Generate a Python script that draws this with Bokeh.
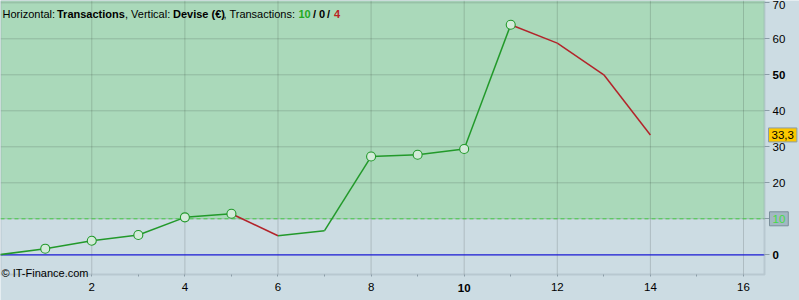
from bokeh.plotting import figure
from bokeh.models import Range1d, FixedTicker, BoxAnnotation, Label, LinearAxis, ColumnDataSource
from bokeh.embed import file_html
from bokeh.resources import INLINE

# ---- data ----
trades = list(range(0, 15))
equity = [0, 1.7, 3.9, 5.5, 10.4, 11.4, 5.3, 6.7, 27.3, 27.8, 29.4, 63.9, 58.8, 50.0, 33.3]
x_ticks = [2, 4, 6, 8, 10, 12, 14, 16]
x_minor = [1, 3, 5, 7, 9, 11, 13, 15]
y_ticks = [0, 10, 20, 30, 40, 50, 60, 70]
threshold = 10
bold_x = [10]
bold_y = [0, 50]
counts = ["10", "0", "4"]

# ---- layout (pixels) ----
W, H = 799, 300
PLOT_W, PLOT_H = 764, 274
PX, PY = 46.55, 3.6          # pixels per data unit
XS = 0.039                   # data x at left edge
YT = 70.64                   # data y at top edge
XE = XS + PLOT_W / PX        # data x at plot right edge
YB = YT - PLOT_H / PY        # data y at plot bottom edge

BG = "#ccdce3"
GREEN_BG = "#aad9ba"
BORDER = "#8b9da7"
LINE_G = "#22992a"
LINE_R = "#b3232a"
FONT = "Liberation Sans"
FS = "11.5px"

p = figure(width=W, height=H,
           x_range=Range1d(XS, XS + W / PX), y_range=Range1d(YT - H / PY, YT),
           x_axis_location=None, y_axis_location=None,
           output_backend="svg", toolbar_location=None,
           min_border_left=0, min_border_top=0, min_border_right=0, min_border_bottom=0,
           background_fill_color=BG, border_fill_color=BG)
p.outline_line_color = None
p.grid.visible = False

# green zone above threshold
p.add_layout(BoxAnnotation(left=XS, right=XE, bottom=threshold, top=YT,
                           fill_color=GREEN_BG, fill_alpha=1.0, line_color=None, level="underlay"))

# grid lines limited to the plot region
p.segment(x0=x_ticks, y0=[YB] * len(x_ticks), x1=x_ticks, y1=[YT] * len(x_ticks),
          line_color="black", line_alpha=0.15, line_width=1)
p.segment(x0=[XS] * len(y_ticks), y0=y_ticks, x1=[XE] * len(y_ticks), y1=y_ticks,
          line_color="black", line_alpha=0.15, line_width=1)

# reference lines
p.segment(x0=[XS], y0=[threshold], x1=[XE], y1=[threshold], line_color="#44cc44", line_dash="4 3", line_width=1)
p.segment(x0=[XS], y0=[0], x1=[XE], y1=[0], line_color="#2020dd", line_width=1.2)

# plot border
p.add_layout(BoxAnnotation(left=XS, right=XE, bottom=YB, top=YT, fill_alpha=0,
                           line_color=BORDER, line_width=2))

# axes
xa = LinearAxis(fixed_location=YB, ticker=FixedTicker(ticks=x_ticks, minor_ticks=x_minor))
xa.axis_line_color = None
xa.major_tick_out = 2
xa.major_tick_in = 0
xa.minor_tick_out = 2
xa.minor_tick_in = 0
xa.major_tick_line_color = BORDER
xa.minor_tick_line_color = BORDER
xa.major_label_standoff = 6
xa.major_label_text_font = FONT
xa.major_label_text_font_size = FS
xa.major_label_text_color = "black"
xa.major_label_overrides = {t: "" for t in bold_x}
p.add_layout(xa, "below")

ya = LinearAxis(fixed_location=XE, ticker=FixedTicker(ticks=y_ticks))
ya.axis_line_color = None
ya.major_tick_out = 5
ya.major_tick_in = 0
ya.minor_tick_line_color = None
ya.major_tick_line_color = BORDER
ya.major_label_standoff = 3
ya.major_label_text_font = FONT
ya.major_label_text_font_size = FS
ya.major_label_text_color = "black"
ya.major_label_overrides = {t: "" for t in bold_y + [threshold]}
p.add_layout(ya, "right")

# equity segments
seg = dict(x0=[], y0=[], x1=[], y1=[], c=[])
for i in range(1, len(trades)):
    seg["x0"].append(trades[i - 1]); seg["y0"].append(equity[i - 1])
    seg["x1"].append(trades[i]); seg["y1"].append(equity[i])
    seg["c"].append(LINE_G if equity[i] >= equity[i - 1] else LINE_R)
p.segment("x0", "y0", "x1", "y1", color="c", line_width=1.5, source=ColumnDataSource(seg))

# new-high markers
hx, hy = [], []
for i in range(1, len(trades)):
    if equity[i] > max(equity[:i]):
        hx.append(trades[i]); hy.append(equity[i])
p.scatter(hx, hy, size=9, marker="circle", line_color=LINE_G, line_width=1.1, fill_color="#d3ebd9")

# bold tick labels
for t in bold_x:
    p.add_layout(Label(x=t, y=13, x_units="data", y_units="screen", text=str(t),
                       text_font=FONT, text_font_size=FS, text_font_style="bold",
                       text_align="center", text_baseline="middle", text_color="black"))
for t in bold_y:
    p.add_layout(Label(x=772, y=t, x_units="screen", y_units="data", text=str(t),
                       text_font=FONT, text_font_size=FS, text_font_style="bold",
                       text_align="left", text_baseline="middle", text_color="black"))

# value badges
last = equity[-1]
p.add_layout(Label(x=768, y=last, x_units="screen", y_units="data",
                   text=f"{last:.1f}".replace(".", ","), text_font=FONT, text_font_size=FS,
                   text_baseline="middle", text_color="black",
                   background_fill_color="#fcc800", border_line_color=BORDER, padding=3))
p.add_layout(Label(x=769, y=threshold, x_units="screen", y_units="data",
                   text=str(threshold), text_font=FONT, text_font_size=FS,
                   text_baseline="middle", text_color="#44dd44",
                   background_fill_color="#a3b8c3", border_line_color="#7a8f9a", padding=3))

# header text
segments = [
    ("Horizontal: ", 2, "normal", "black"),
    ("Transactions", 56.5, "bold", "black"),
    (", Vertical: ", 124.5, "normal", "black"),
    ("Devise (€)", 172.5, "bold", "black"),
    (", Transactions: ", 223, "normal", "black"),
    (counts[0], 298, "bold", "#22aa22"),
    ("/", 312.5, "bold", "black"),
    (counts[1], 318.5, "bold", "black"),
    ("/", 326.5, "bold", "black"),
    (counts[2], 333.5, "bold", "#bb2222"),
]
for txt, sx, style, col in segments:
    p.add_layout(Label(x=sx, y=H - 13, x_units="screen", y_units="screen", text=txt,
                       text_font=FONT, text_font_size="11px", text_font_style=style,
                       text_color=col, text_baseline="alphabetic"))

p.add_layout(Label(x=1, y=H - 272.5, x_units="screen", y_units="screen", text="© IT-Finance.com",
                   text_font=FONT, text_font_size="11px", text_color="black",
                   text_baseline="alphabetic"))

open("out.html", "w").write(file_html(p, INLINE))
